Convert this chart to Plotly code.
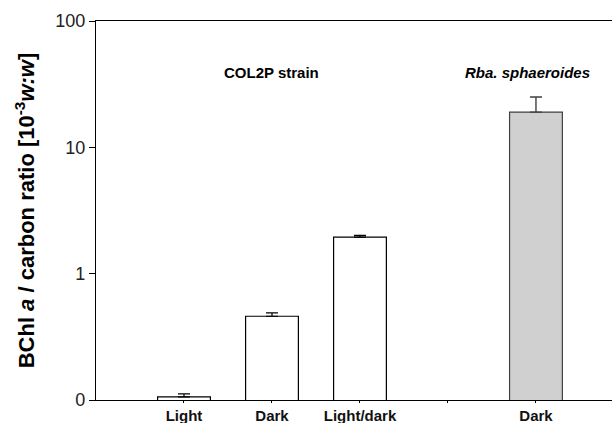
import plotly.graph_objects as go

categories = ["Light", "Dark", "Light/dark", " ", "Dark"]
positions = [0, 1, 2, 3, 4]
col2p_x = [0, 1, 2]
col2p_values = [0.106, 0.46, 1.95]
col2p_err = [0.006, 0.03, 0.06]
rba_x = [4]
rba_values = [19.0]
rba_err = [6.0]
ytick_vals = [0.1, 1, 10, 100]
ytick_text = ["0", "1", "10", "100"]

FONT = "Liberation Sans, Arial, sans-serif"

fig = go.Figure()
fig.add_trace(go.Bar(
    x=col2p_x, y=col2p_values, width=0.6,
    marker=dict(color="white", line=dict(color="black", width=1.2)),
    error_y=dict(type="data", array=col2p_err, arrayminus=[0, 0, 0], symmetric=False,
                 color="black", thickness=1.2, width=6),
    showlegend=False,
))
fig.add_trace(go.Bar(
    x=rba_x, y=rba_values, width=0.6,
    marker=dict(color="#d0d0d0", line=dict(color="#404040", width=1.2)),
    error_y=dict(type="data", array=rba_err, arrayminus=[0], symmetric=False,
                 color="#404040", thickness=1.4, width=6),
    showlegend=False,
))

fig.add_annotation(x=1, y=1.59, xref="x", yref="y", yanchor="middle",
                   text="<b>COL2P strain</b>", showarrow=False,
                   font=dict(family=FONT, size=15, color="black"))
fig.add_annotation(x=3.9, y=1.59, xref="x", yref="y", yanchor="middle",
                   text="<b><i>Rba. sphaeroides</i></b>", showarrow=False,
                   font=dict(family=FONT, size=15, color="black"))

fig.update_layout(
    width=612, height=423,
    margin=dict(l=96, r=0, t=21, b=23),
    paper_bgcolor="white", plot_bgcolor="white",
    font=dict(family=FONT, color="black"),
    xaxis=dict(
        range=[-1, 4.864], tickmode="array", tickvals=positions,
        ticktext=["<b>%s</b>" % c for c in categories],
        showline=True, linecolor="black", linewidth=1.2, mirror=True,
        ticks="outside", ticklen=2, tickcolor="black",
        tickfont=dict(family=FONT, size=15, color="#111111"),
        showgrid=False, zeroline=False, automargin=False,
    ),
    yaxis=dict(
        type="log", range=[-1, 2], tickmode="array", tickvals=ytick_vals, ticktext=ytick_text,
        showline=True, linecolor="black", linewidth=1.2,
        ticks="outside", ticklen=6, tickcolor="black",
        tickfont=dict(family=FONT, size=18, color="#222222"),
        showgrid=False, zeroline=False, automargin=False,
        title=dict(text="<b>BChl <i>a</i> / carbon ratio [10<sup>-3</sup><i>w:w</i>]</b>",
                   font=dict(family=FONT, size=22, color="black"), standoff=14),
    ),
)
fig.write_html("out.html")
